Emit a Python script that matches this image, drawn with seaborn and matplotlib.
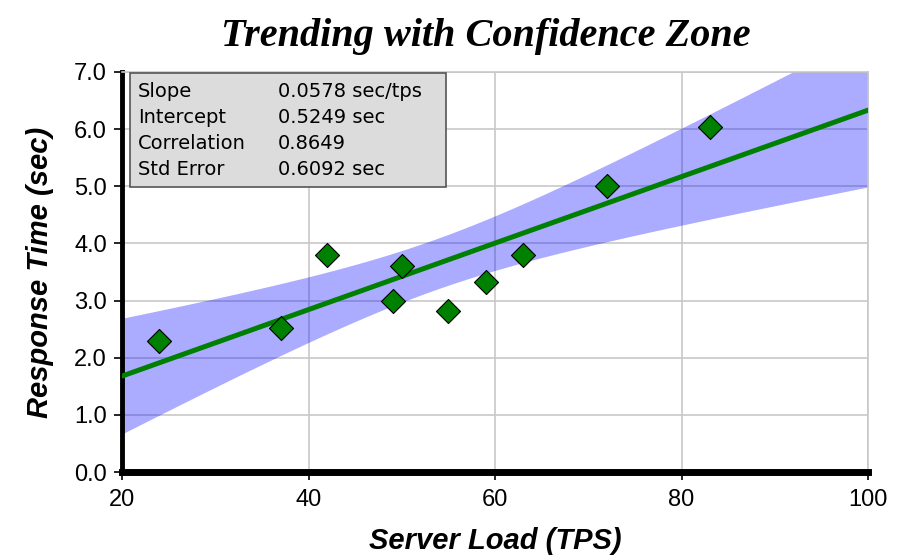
import numpy as np
import pandas as pd
import matplotlib.pyplot as plt
from matplotlib.patches import Rectangle
import seaborn as sns

# =============================================================
# DATA
# =============================================================
server_load = [24, 37, 42, 49, 50, 55, 59, 63, 72, 83]
response_time = [2.30, 2.52, 3.80, 3.00, 3.61, 2.82, 3.33, 3.80, 5.00, 6.04]

stat_names = ['Slope', 'Intercept', 'Correlation', 'Std Error']
stat_values = ['0.0578 sec/tps', '0.5249 sec', '0.8649', '0.6092 sec']

x_ticks = [20, 40, 60, 80, 100]
y_ticks = [0, 1, 2, 3, 4, 5, 6, 7]

T_95 = 2.306  # student t, df = n - 2 = 8

df = pd.DataFrame({'load': server_load, 'resp': response_time})

# =============================================================
# STYLE
# =============================================================
sns.set_style('white')
plt.rcParams['font.family'] = ['Liberation Sans', 'DejaVu Sans']
plt.rcParams['text.color'] = 'black'
plt.rcParams['axes.labelcolor'] = 'black'
plt.rcParams['xtick.color'] = 'black'
plt.rcParams['ytick.color'] = 'black'

fig = plt.figure(figsize=(9, 5.6), dpi=100)
ax = fig.add_axes([0.1356, 0.157, 0.829, 0.7145])
ax.set_xlim(20, 100)
ax.set_ylim(0, 7)

# confidence zone (95% CI of the fitted mean)
x = df['load'].to_numpy(float)
y = df['resp'].to_numpy(float)
n = len(x)
b1, b0 = np.polyfit(x, y, 1)
resid = y - (b0 + b1 * x)
se = np.sqrt(np.sum(resid ** 2) / (n - 2))
sxx = np.sum((x - x.mean()) ** 2)
xs = np.linspace(20, 100, 200)
fit = b0 + b1 * xs
half = T_95 * se * np.sqrt(1 / n + (xs - x.mean()) ** 2 / sxx)
ax.fill_between(xs, fit - half, fit + half, color='#0000ff', alpha=0.33,
                linewidth=0, zorder=2)

# trend line + points
sns.regplot(data=df, x='load', y='resp', ax=ax, ci=None, truncate=False,
            scatter=False, line_kws={'color': '#008000', 'linewidth': 3.6,
                                     'zorder': 3})
sns.scatterplot(data=df, x='load', y='resp', ax=ax, marker='D', s=150,
                color='#008000', edgecolor='black', linewidth=0.8, zorder=4)

# axes cosmetics
ax.set_xticks(x_ticks)
ax.set_yticks(y_ticks)
ax.set_xticklabels([str(v) for v in x_ticks], fontsize=17)
ax.set_yticklabels([f'{v:.1f}' for v in y_ticks], fontsize=17)
ax.grid(True, color='#c8c8c8', linewidth=1.2, zorder=1)
ax.set_axisbelow(True)
for side in ['top', 'right']:
    ax.spines[side].set_color('#c8c8c8')
    ax.spines[side].set_linewidth(1.2)
ax.spines['left'].set_color('black')
ax.spines['left'].set_linewidth(3.5)
ax.spines['bottom'].set_color('black')
ax.spines['bottom'].set_linewidth(5)
ax.tick_params(axis='both', direction='out', length=6, width=1.2,
               color='black', bottom=True, left=True)
ax.tick_params(axis='y', pad=5)
ax.tick_params(axis='x', pad=6)

ax.set_xlabel('Server Load (TPS)', fontsize=21, fontweight='bold',
              fontstyle='italic', labelpad=12)
ax.set_ylabel('Response Time (sec)', fontsize=21, fontweight='bold',
              fontstyle='italic', labelpad=14)

fig.text(0.54, 0.935, 'Trending with Confidence Zone', ha='center',
         va='center', fontsize=29, fontweight='bold', fontstyle='italic',
         family=['Liberation Serif', 'DejaVu Serif'])

# statistics box
box = Rectangle((0.01, 0.712), 0.424, 0.285, transform=ax.transAxes,
                facecolor='#dcdcdc', edgecolor='#555555', linewidth=1.2,
                zorder=5)
ax.add_patch(box)
for i, (name, val) in enumerate(zip(stat_names, stat_values)):
    yy = 0.95 - i * 0.065
    ax.text(0.021, yy, name, transform=ax.transAxes, fontsize=14,
            va='center', ha='left', family=['DejaVu Sans'], zorder=6)
    ax.text(0.209, yy, val, transform=ax.transAxes, fontsize=14,
            va='center', ha='left', family=['DejaVu Sans'], zorder=6)

plt.savefig('out.png', dpi=100)
